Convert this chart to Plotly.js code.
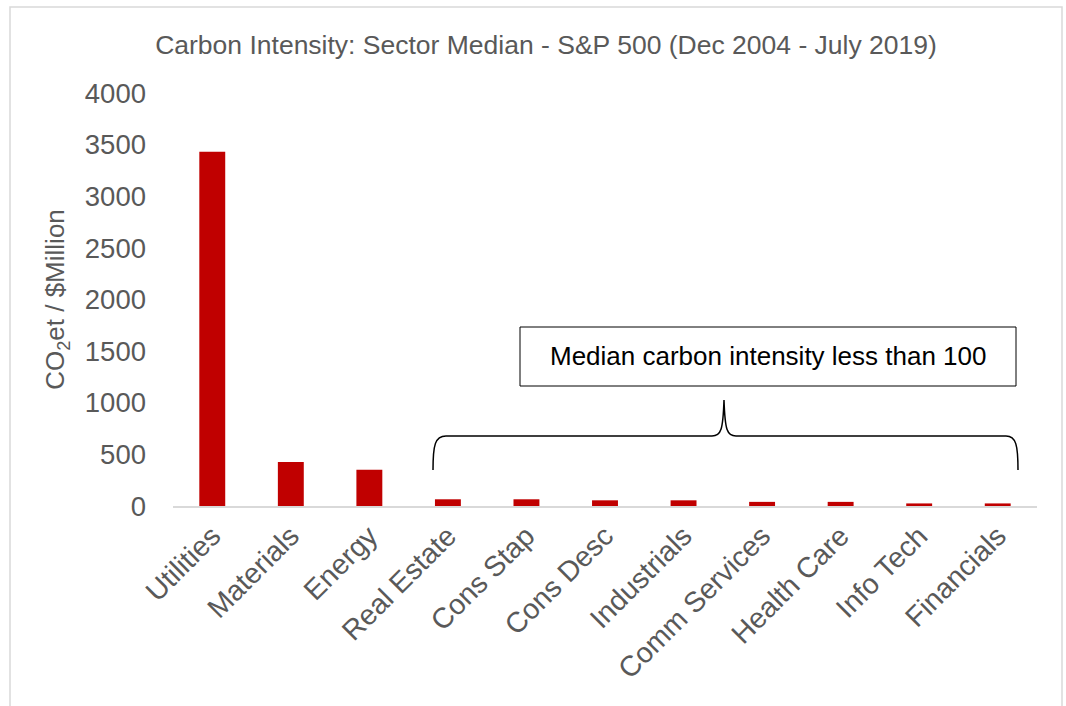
<!DOCTYPE html>
<html>
<head>
<meta charset="utf-8">
<script src="https://cdn.plot.ly/plotly-3.0.1.min.js"></script>
<style>html,body{margin:0;padding:0;background:#fff}#chart{width:1066px;height:706px}</style>
</head>
<body>
<div id="chart"></div>
<script>
const sectors = ["Utilities","Materials","Energy","Real Estate","Cons Stap","Cons Desc","Industrials","Comm Services","Health Care","Info Tech","Financials"];
const medianIntensity = [3430, 425, 350, 65, 65, 55, 55, 40, 40, 25, 25];
const yTicks = [0, 500, 1000, 1500, 2000, 2500, 3000, 3500, 4000];

const W = 1066, H = 706;
const L = 173, R = 1037, T = 93, B = 506;
const px = x => (x - L) / (R - L);
const py = y => (B - y) / (B - T);
function pathFromPixels(cmds) {
  return cmds.map(c => c[0] + ' ' + c.slice(1).reduce((acc, v, i) => {
    acc.push(i % 2 === 0 ? px(v).toFixed(5) : py(v).toFixed(5)); return acc;
  }, []).join(',')).join(' ');
}
const bracePath = pathFromPixels([
  ['M', 433, 470],
  ['C', 433, 445, 435, 436, 446, 436],
  ['L', 712, 436],
  ['C', 721, 436, 723, 430, 724, 400],
  ['C', 725, 430, 727, 436, 736, 436],
  ['L', 1006, 436],
  ['C', 1016, 436, 1018, 445, 1018, 470]
]);

const FONT = "Liberation Sans, Arial, sans-serif";
const GREY = "#595959";

const data = [{
  type: 'bar',
  x: sectors,
  y: medianIntensity,
  marker: {color: '#c00000'},
  width: 0.33,
  hoverinfo: 'x+y'
}];

const layout = {
  width: W, height: H,
  margin: {l: L, r: W - R, t: T, b: H - B},
  paper_bgcolor: '#fff', plot_bgcolor: '#fff',
  showlegend: false,
  font: {family: FONT, color: GREY},
  title: {
    text: 'Carbon Intensity: Sector Median - S&amp;P 500 (Dec 2004 - July 2019)',
    font: {family: FONT, size: 26.5, color: GREY},
    x: 546 / W, xanchor: 'center', xref: 'container',
    y: 1 - 45 / H, yanchor: 'middle', yref: 'container'
  },
  xaxis: {
    type: 'category',
    tickangle: -45,
    tickfont: {family: FONT, size: 28.5, color: GREY},
    showline: true, linecolor: '#d9d9d9', linewidth: 2,
    showgrid: false, zeroline: false, ticks: '',
    range: [-0.5, sectors.length - 0.5]
  },
  yaxis: {
    range: [0, 4000],
    tickvals: yTicks,
    ticktext: yTicks.map(String),
    tickfont: {family: FONT, size: 27.5, color: GREY},
    showgrid: false, zeroline: false, showline: false, ticks: '',
    ticklabelstandoff: 26,
    title: {text: 'CO<sub>2</sub>et / $Million', font: {family: FONT, size: 26, color: GREY}, standoff: 12}
  },
  shapes: [
    {type: 'rect', xref: 'paper', yref: 'paper', x0: px(10), x1: px(1062), y0: py(720), y1: py(7),
     line: {color: '#d9d9d9', width: 1.5}, fillcolor: 'rgba(0,0,0,0)', layer: 'below'},
    {type: 'rect', xref: 'paper', yref: 'paper', x0: px(520), x1: px(1016), y0: py(386), y1: py(327),
     line: {color: '#000', width: 1}, fillcolor: '#fff'},
    {type: 'path', xref: 'paper', yref: 'paper', path: bracePath, line: {color: '#000', width: 1.5}}
  ],
  annotations: [
    {xref: 'paper', yref: 'paper', x: px(768), y: py(356), text: 'Median carbon intensity less than 100',
     showarrow: false, xanchor: 'center', yanchor: 'middle', font: {family: FONT, size: 26, color: '#000'}}
  ]
};

Plotly.newPlot('chart', data, layout, {displayModeBar: false, staticPlot: true});
</script>
</body>
</html>
